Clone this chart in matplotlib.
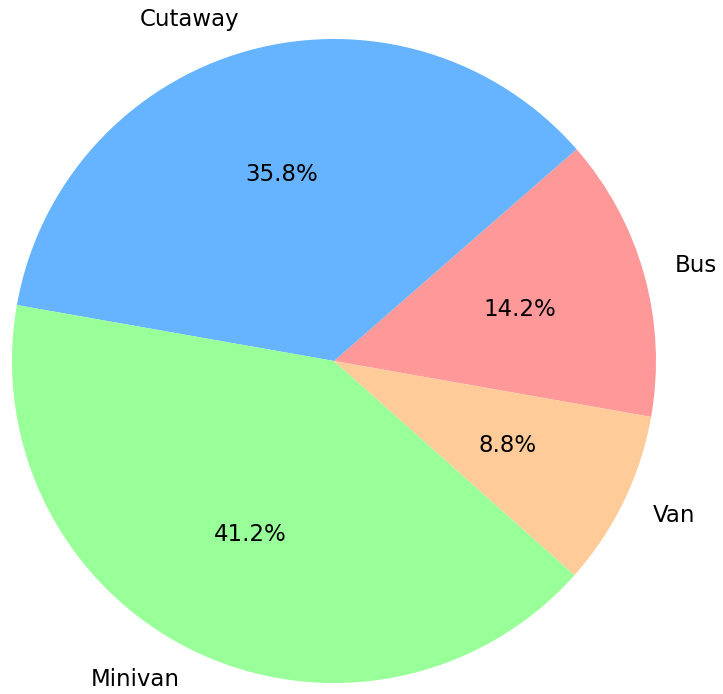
import matplotlib as mpl
mpl.use('Agg')
from matplotlib import pyplot as plt

labels = ['Bus', 'Cutaway', 'Minivan', 'Van']
shares = [14.2, 35.8, 41.2, 8.8]
colors = ['#ff9999', '#66b3ff', '#99ff99', '#ffcc99']

# pixel layout of the reference: centre (334, 361 from top), radius 322
W, H = 723, 694
cx, cy, r = 334, 361, 322

fig = plt.figure(figsize=(W / 100, H / 100), dpi=100)
ax = fig.add_axes([0, 0, 1, 1])
ax.pie(shares,
       labels=labels,
       colors=colors,
       autopct='%1.1f%%',
       startangle=-10,
       textprops={'fontsize': 16.5})
ax.set_aspect('auto')
ax.set_xlim(-cx / r, (W - cx) / r)
ax.set_ylim(-(H - cy) / r, cy / r)
ax.axis('off')
fig.savefig('out.png', dpi=100)
